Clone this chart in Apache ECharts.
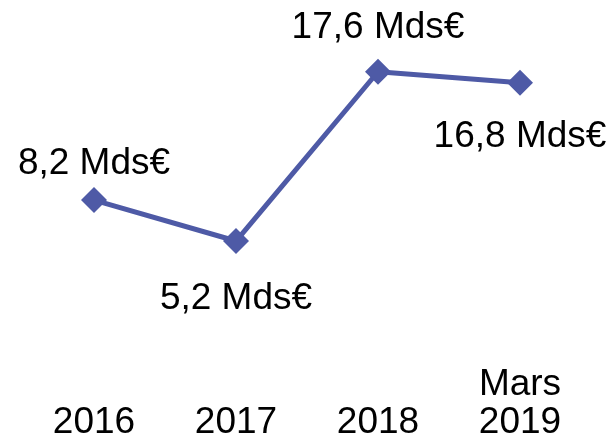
<!DOCTYPE html>
<html>
<head>
<meta charset="utf-8">
<script src="https://cdn.jsdelivr.net/npm/echarts@6/dist/echarts.min.js"></script>
<style>
    html, body { margin: 0; padding: 0; background: #fff; }
    #main { width: 612px; height: 442px; }
</style>
</head>
<body>
<div id="main"></div>
<script type="text/javascript">
    // données du graphique
    var categories = ['2016', '2017', '2018', 'Mars\n2019'];
    var values = [8.2, 5.2, 17.6, 16.8];
    var unit = ' Mds€';

    // position des étiquettes (au-dessus / en dessous du point)
    var labelPos = ['top', 'bottom', 'top', 'bottom'];
    var labelDist = [5, 26, 12, 23];

    var myChart = echarts.init(document.getElementById('main'));

    var seriesData = values.map(function (v, i) {
        return {
            value: v,
            label: { position: labelPos[i], distance: labelDist[i] }
        };
    });

    var option = {
        animation: false,
        textStyle: { fontFamily: 'Liberation Sans, Arial, sans-serif' },
        grid: { left: 23, right: 21, top: 39, bottom: 126 },
        xAxis: {
            type: 'category',
            boundaryGap: true,
            data: categories,
            axisLine: { show: false },
            axisTick: { show: false },
            axisLabel: {
                color: '#000',
                fontSize: 37,
                lineHeight: 38,
                verticalAlign: 'bottom',
                margin: 130,
                interval: 0
            }
        },
        yAxis: {
            type: 'value',
            min: 0,
            max: 20,
            show: false,
            splitLine: { show: false }
        },
        series: [{
            type: 'line',
            data: seriesData,
            symbol: 'diamond',
            symbolSize: 26,
            lineStyle: { color: '#4E5AA6', width: 5 },
            itemStyle: { color: '#4E5AA6' },
            label: {
                show: true,
                color: '#000',
                fontSize: 37,
                formatter: function (p) {
                    return String(p.value).replace('.', ',') + unit;
                }
            }
        }]
    };

    myChart.setOption(option);
</script>
</body>
</html>
